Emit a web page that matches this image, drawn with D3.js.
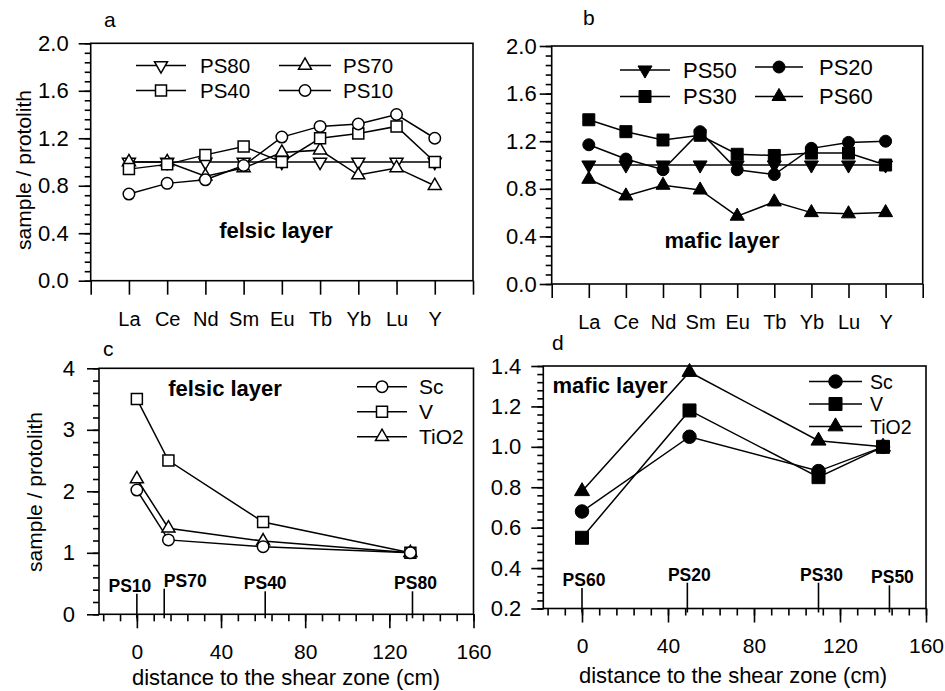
<!DOCTYPE html>
<html>
<head>
<meta charset="utf-8">
<script src="https://cdn.jsdelivr.net/npm/d3@7"></script>
<style>
body { margin: 0; background: #fff; }
svg { font-family: "Liberation Sans", Arial, Helvetica, sans-serif; }
</style>
</head>
<body>
<svg id="fig" width="945" height="691"></svg>
<script>
// ---- data ----
var ree = ["La", "Ce", "Nd", "Sm", "Eu", "Tb", "Yb", "Lu", "Y"];

// a : felsic layer, REE sample / protolith
var ps80 = [1.0, 1.0, 1.0, 1.0, 1.0, 1.0, 1.0, 1.0, 1.0];
var ps70 = [1.0, 1.0, 0.88, 0.95, 1.08, 1.1, 0.89, 0.95, 0.8];
var ps40 = [0.94, 0.98, 1.06, 1.13, 1.0, 1.2, 1.24, 1.3, 1.0];
var ps10 = [0.73, 0.82, 0.85, 0.97, 1.21, 1.3, 1.32, 1.4, 1.2];

// b : mafic layer
var ps50 = [1.0, 1.0, 1.0, 1.0, 1.0, 1.0, 1.0, 1.0, 1.0];
var ps30 = [1.38, 1.28, 1.21, 1.25, 1.09, 1.08, 1.1, 1.1, 1.0];
var ps20 = [1.17, 1.05, 0.96, 1.28, 0.96, 0.92, 1.14, 1.19, 1.2];
var ps60 = [0.88, 0.74, 0.83, 0.79, 0.57, 0.69, 0.6, 0.59, 0.6];

// c : felsic layer vs distance
var distC = [0, 15, 60, 130];
var scC = [2.02, 1.21, 1.1, 1.0];
var vC = [3.5, 2.5, 1.5, 1.0];
var tiC = [2.2, 1.4, 1.19, 1.0];
var sampC = ["PS10", "PS70", "PS40", "PS80"];
var sampPosC = [0, 13, 61, 131];

// d : mafic layer vs distance
var distD = [0, 50, 110, 140];
var scD = [0.68, 1.05, 0.88, 1.0];
var vD = [0.55, 1.18, 0.85, 1.0];
var tiD = [0.78, 1.37, 1.03, 1.0];
var sampD = ["PS60", "PS20", "PS30", "PS50"];
var sampPosD = [0, 49, 110, 143];

var reeIdx = d3.range(ree.length);

var svg = d3.select("#fig");
var LW = 1.6;

function symPath(shape, s) {
  var t = {circle: d3.symbolCircle, square: d3.symbolSquare, tri: d3.symbolTriangle, down: d3.symbolTriangle}[shape];
  var area;
  if (shape == "circle") area = Math.PI * (s / 2) * (s / 2);
  else if (shape == "square") area = s * s;
  else area = Math.sqrt(3) / 4 * s * s;
  return d3.symbol().type(t).size(area)();
}

function marker(g, shape, filled, s, cx, cy) {
  g.append("path")
    .attr("d", symPath(shape, s))
    .attr("transform", "translate(" + cx + "," + cy + ")" + (shape == "down" ? " rotate(180)" : ""))
    .attr("fill", filled ? "#000" : "#fff")
    .attr("stroke", "#000")
    .attr("stroke-width", filled ? 1 : 1.5);
}

function styleAxis(sel, fs) {
  sel.select(".domain").remove();
  sel.selectAll("line").attr("stroke", "#000").attr("stroke-width", LW);
  sel.attr("font-family", null).attr("font-size", fs);
  sel.selectAll("text").attr("fill", "#000");
}

function panel(o) {
  var x = d3.scaleLinear().domain(o.xDom).range([o.l, o.r]);
  var y = d3.scaleLinear().domain(o.yDom).range([o.b, o.t]);
  var g = svg.append("g");

  // y axis
  g.append("g").attr("transform", "translate(" + o.l + ",0)")
    .call(d3.axisLeft(y).tickValues(o.yMinor).tickSize(6).tickFormat(""))
    .call(styleAxis, 22);
  g.append("g").attr("transform", "translate(" + o.l + ",0)")
    .call(d3.axisLeft(y).tickValues(o.yMajor).tickSize(12).tickPadding(o.yPad).tickFormat(d3.format(o.yFmt)))
    .call(styleAxis, 22);

  // x axis
  if (o.xMinor) {
    g.append("g").attr("transform", "translate(0," + o.b + ")")
      .call(d3.axisBottom(x).tickValues(o.xMinor).tickSize(7).tickFormat(""))
      .call(styleAxis, 22);
  }
  g.append("g").attr("transform", "translate(0," + o.b + ")")
    .call(d3.axisBottom(x).tickValues(o.xMajor).tickSize(14).tickPadding(o.xPad).tickFormat(o.xFmt))
    .call(styleAxis, o.xFs);

  // frame
  g.append("rect")
    .attr("x", o.l).attr("y", o.t)
    .attr("width", o.r - o.l).attr("height", o.b - o.t)
    .attr("fill", "none").attr("stroke", "#000").attr("stroke-width", LW);

  // panel letter
  g.append("text").attr("x", o.letter[1]).attr("y", o.letter[2])
    .attr("font-size", 21).text(o.letter[0]);

  // layer name
  g.append("text").attr("x", o.name[1]).attr("y", o.name[2])
    .attr("text-anchor", "middle").attr("font-size", 22).attr("font-weight", "bold")
    .text(o.name[0]);

  // sample markers along the distance axis
  if (o.samples) {
    o.samples.forEach(function(nm, i) {
      var px = x(o.samplePos[i]);
      g.append("line").attr("x1", px).attr("x2", px)
        .attr("y1", o.b + o.sampBase[i] + 2).attr("y2", o.b + 4)
        .attr("stroke", "#000").attr("stroke-width", LW);
      g.append("text").attr("x", px + o.sampDx[i]).attr("y", o.b + o.sampBase[i])
        .attr("text-anchor", "middle").attr("font-size", 17.5).attr("font-weight", "bold")
        .text(nm);
    });
  }

  // series
  var line = d3.line();
  o.series.forEach(function(s) {
    var pts = s.vals.map(function(v, i) { return [x(s.xs[i]), y(v)]; });
    g.append("path").attr("d", line(pts))
      .attr("fill", "none").attr("stroke", "#000").attr("stroke-width", 1.5);
  });
  o.series.forEach(function(s) {
    s.vals.forEach(function(v, i) {
      marker(g, s.shape, s.filled, o.ms[s.shape], x(s.xs[i]), y(v));
    });
  });

  // legend
  o.legend.forEach(function(e) {
    var s = e.s;
    g.append("line").attr("x1", e.x1).attr("x2", e.x2).attr("y1", e.y).attr("y2", e.y)
      .attr("stroke", "#000").attr("stroke-width", 1.5);
    marker(g, s.shape, s.filled, o.ms[s.shape], (e.x1 + e.x2) / 2, e.y);
    g.append("text").attr("x", e.tx).attr("y", e.y).attr("dy", "0.36em")
      .attr("font-size", o.legFs).text(s.label);
  });

  // y title
  if (o.yTitle) {
    g.append("text")
      .attr("transform", "translate(" + o.yTitle[0] + "," + o.yTitle[1] + ") rotate(-90)")
      .attr("text-anchor", "middle").attr("dy", "0.35em").attr("font-size", 21)
      .text("sample / protolith");
  }
  if (o.xTitle) {
    g.append("text").attr("x", o.xTitle[0]).attr("y", o.xTitle[1])
      .attr("text-anchor", "middle").attr("font-size", 22)
      .text("distance to the shear zone (cm)");
  }
}

var openMs = {circle: 11.5, square: 11, tri: 13, down: 13};
var fillMs = {circle: 12, square: 12, tri: 14, down: 14};
var dMs = {circle: 13.5, square: 13, tri: 15, down: 15};

// a
var sA = {
  p80: {label: "PS80", vals: ps80, xs: reeIdx, shape: "down", filled: false},
  p70: {label: "PS70", vals: ps70, xs: reeIdx, shape: "tri", filled: false},
  p40: {label: "PS40", vals: ps40, xs: reeIdx, shape: "square", filled: false},
  p10: {label: "PS10", vals: ps10, xs: reeIdx, shape: "circle", filled: false}
};
panel({
  l: 90.7, r: 473, t: 43.3, b: 280.7,
  xDom: [-1, 9], yDom: [0, 2],
  yMajor: d3.range(0, 2.01, 0.4), yMinor: d3.range(0, 2.001, 0.08), yFmt: ".1f", yPad: 10,
  xMajor: d3.range(-1, 10), xFmt: function(i) { return ree[i] || ""; }, xPad: 17, xFs: 20,
  letter: ["a", 104, 27], name: ["felsic layer", 276, 238],
  series: [sA.p80, sA.p70, sA.p40, sA.p10], ms: openMs, legFs: 20.5,
  legend: [
    {s: sA.p80, x1: 136, x2: 186, y: 65.5, tx: 200},
    {s: sA.p40, x1: 136, x2: 186, y: 90.5, tx: 200},
    {s: sA.p70, x1: 279, x2: 331, y: 65.5, tx: 343},
    {s: sA.p10, x1: 279, x2: 331, y: 90.5, tx: 343}
  ],
  yTitle: [24, 170]
});

// b
var sB = {
  p50: {label: "PS50", vals: ps50, xs: reeIdx, shape: "down", filled: true},
  p30: {label: "PS30", vals: ps30, xs: reeIdx, shape: "square", filled: true},
  p20: {label: "PS20", vals: ps20, xs: reeIdx, shape: "circle", filled: true},
  p60: {label: "PS60", vals: ps60, xs: reeIdx, shape: "tri", filled: true}
};
panel({
  l: 551.7, r: 922.7, t: 46, b: 284,
  xDom: [-1, 9], yDom: [0, 2],
  yMajor: d3.range(0, 2.01, 0.4), yMinor: d3.range(0, 2.001, 0.08), yFmt: ".1f", yPad: 3,
  xMajor: d3.range(-1, 10), xFmt: function(i) { return ree[i] || ""; }, xPad: 17, xFs: 20,
  letter: ["b", 583, 25], name: ["mafic layer", 722, 248],
  series: [sB.p50, sB.p30, sB.p20, sB.p60], ms: fillMs, legFs: 22,
  legend: [
    {s: sB.p50, x1: 620, x2: 670, y: 70, tx: 683},
    {s: sB.p30, x1: 620, x2: 670, y: 96.5, tx: 683},
    {s: sB.p20, x1: 755, x2: 803, y: 67, tx: 819},
    {s: sB.p60, x1: 755, x2: 803, y: 96.5, tx: 819}
  ]
});

// c
var sC = {
  sc: {label: "Sc", vals: scC, xs: distC, shape: "circle", filled: false},
  v: {label: "V", vals: vC, xs: distC, shape: "square", filled: false},
  ti: {label: "TiO2", vals: tiC, xs: distC, shape: "tri", filled: false}
};
panel({
  l: 99, r: 473.5, t: 368.3, b: 614.3,
  xDom: [-18, 160], yDom: [0, 4],
  yMajor: d3.range(0, 5), yMinor: d3.range(0, 4.001, 0.2), yFmt: "d", yPad: 12,
  xMajor: [0, 40, 80, 120, 160], xMinor: d3.range(-16, 161, 8), xFmt: d3.format("d"), xPad: 16, xFs: 21,
  letter: ["c", 103, 356], name: ["felsic layer", 225, 396],
  series: [sC.v, sC.ti, sC.sc], ms: openMs, legFs: 21,
  samples: sampC, samplePos: sampPosC, sampDx: [-7, 21, 0, 3], sampBase: [-22.6, -27.6, -25, -25],
  legend: [
    {s: sC.sc, x1: 357, x2: 407, y: 386.7, tx: 419},
    {s: sC.v, x1: 357, x2: 407, y: 411.7, tx: 419},
    {s: sC.ti, x1: 357, x2: 407, y: 436.7, tx: 419}
  ],
  yTitle: [35, 492], xTitle: [286, 684.5]
});

// d
var sD = {
  sc: {label: "Sc", vals: scD, xs: distD, shape: "circle", filled: true},
  v: {label: "V", vals: vD, xs: distD, shape: "square", filled: true},
  ti: {label: "TiO2", vals: tiD, xs: distD, shape: "tri", filled: true}
};
panel({
  l: 543.3, r: 926, t: 366, b: 608.5,
  xDom: [-18, 160], yDom: [0.2, 1.4],
  yMajor: d3.range(0.2, 1.401, 0.2), yMinor: d3.range(0.2, 1.4001, 0.04), yFmt: ".1f", yPad: 10,
  xMajor: [0, 40, 80, 120, 160], xMinor: d3.range(-16, 161, 8), xFmt: d3.format("d"), xPad: 16, xFs: 21,
  letter: ["d", 552, 350], name: ["mafic layer", 610, 393],
  series: [sD.sc, sD.v, sD.ti], ms: dMs, legFs: 19.5,
  samples: sampD, samplePos: sampPosD, sampDx: [2, 2, 3, 3], sampBase: [-22.5, -27.8, -27.8, -25.2],
  legend: [
    {s: sD.sc, x1: 809, x2: 862, y: 381.5, tx: 870},
    {s: sD.v, x1: 809, x2: 862, y: 404, tx: 870},
    {s: sD.ti, x1: 809, x2: 862, y: 426.5, tx: 870}
  ],
  xTitle: [733, 682.5]
});
</script>
</body>
</html>
